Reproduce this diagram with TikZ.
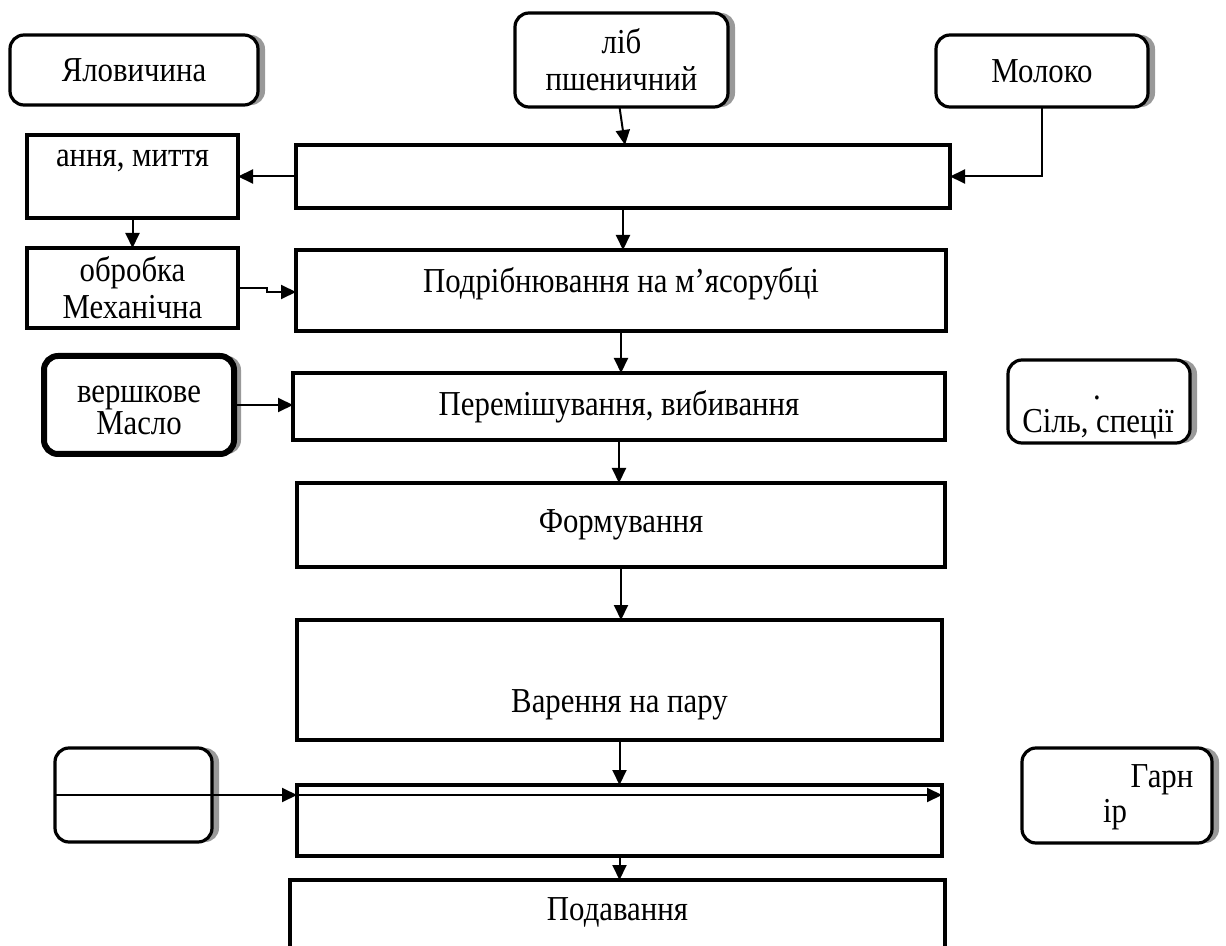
\documentclass[tikz,border=0pt]{standalone}
\usepackage{fontspec}
\setmainfont[FakeStretch=0.88]{Liberation Serif}
\usetikzlibrary{arrows.meta,shadows}

\tikzset{
  stepbox/.style={draw, line width=1.6pt, fill=white, inner sep=0pt, outer sep=0pt, align=center},
  srcbox/.style={stepbox, rounded corners=7pt,
    drop shadow={shadow xshift=3.5pt, shadow yshift=0pt, fill=black!40, opacity=1}},
  lbl/.style={inner sep=0pt, anchor=base},
  flow/.style={line width=1pt, -{Triangle[length=7.5pt,width=7pt]}},
}

\begin{document}
\begin{tikzpicture}[x=0.5pt,y=-0.5pt,font=\fontsize{17.5}{18.5}\selectfont]
				\useasboundingbox (0,0) rectangle (1226,946);
				
				% raw products
				\node[srcbox, minimum width=124pt, minimum height=35pt] (beef) at (134,70) {Яловичина};
				\node[srcbox, minimum width=106.5pt, minimum height=47pt] (bread) at (621.5,60) {ліб\\пшеничний};
				\node[srcbox, minimum width=106pt, minimum height=36pt] (milk) at (1042,71) {Молоко};
				
				% upper steps
				\node[stepbox, minimum width=105.5pt, minimum height=41.5pt] (wash) at (132.5,176.5) {};
				\node[lbl] (washtxt) at (132.5,167) {ання, миття};
				\node[stepbox, minimum width=327pt, minimum height=31.5pt] (soak) at (623,176.5) {};
				\node[stepbox, minimum width=105.5pt, minimum height=40pt] (mech) at (132.5,288) {обробка\\Механічна};
				\node[stepbox, minimum width=325pt, minimum height=40.5pt] (mince) at (621,290.5) {};
				\node[lbl] (mincetxt) at (621,293) {Подрібнювання на м’ясорубці};
				
				% mixing
				\node[srcbox, line width=3pt, minimum width=95pt, minimum height=49pt] (butter) at (139,405) {};
				\node[lbl] (buttertxt) at (139,403) {вершкове};
				\node[lbl] (buttertxt2) at (139,435) {Масло};
				\node[stepbox, minimum width=326pt, minimum height=33.5pt] (mix) at (619,406.5) {Перемішування, вибивання};
				\node[srcbox, minimum width=91pt, minimum height=41.5pt] (salt) at (1099,401.5) {};
				\node[lbl] (saltdot) at (1097,400) {.};
				\node[lbl] (salttxt) at (1098,433) {Сіль, спеції};
				
				% lower steps
				\node[stepbox, minimum width=324pt, minimum height=42pt] (shape) at (621,525) {Формування};
				\node[stepbox, minimum width=322.5pt, minimum height=60pt] (steam) at (619.5,680) {};
				\node[lbl] (steamtxt) at (619.5,712) {Варення на пару};
				\node[stepbox, minimum width=322.5pt, minimum height=35.5pt] (garstep) at (619.5,820.5) {};
				\node[srcbox, minimum width=78.5pt, minimum height=47pt] (side) at (133.5,795) {};
				\node[srcbox, minimum width=95pt, minimum height=47.5pt] (garnish) at (1117,795.5) {};
				\node[lbl] (garntxt) at (1162,787) {Гарн};
				\node[lbl] (garntxt2) at (1115,822) {ір};
				\node[stepbox, minimum width=327.5pt, minimum height=75pt] (serve) at (617.5,955) {};
				\node[lbl] (servetxt) at (617.5,920) {Подавання};
				
				% connectors
				\draw[flow] ([xshift=-1pt]bread.south) -- ([xshift=1pt]soak.north);
				\draw[flow] (soak.west) -- (wash.east);
				\draw[flow] (milk.south) |- (soak.east);
				\draw[flow] (wash.south) -- (mech.north);
				\draw[flow] (mech.east) -- ++(29,0) -- ++(0,4) coordinate (mstep) -- (mstep -| mince.west);
				\draw[flow] (soak.south) -- (soak.south |- mince.north);
				\draw[flow] (mince.south) -- (mince.south |- mix.north);
				\draw[flow] (butter.east) -- (butter.east -| mix.west);
				\draw[flow] (mix.south) -- (mix.south |- shape.north);
				\draw[flow] (shape.south) -- (shape.south |- steam.north);
				\draw[flow] (steam.south) -- (steam.south |- garstep.north);
				\draw[flow] (side.west) -- (side.west -| garstep.east);
				\draw[flow] (side.east) -- (side.east -| garstep.west);
				\draw[flow] (garstep.south) -- (garstep.south |- serve.north);
\end{tikzpicture}
\end{document}
